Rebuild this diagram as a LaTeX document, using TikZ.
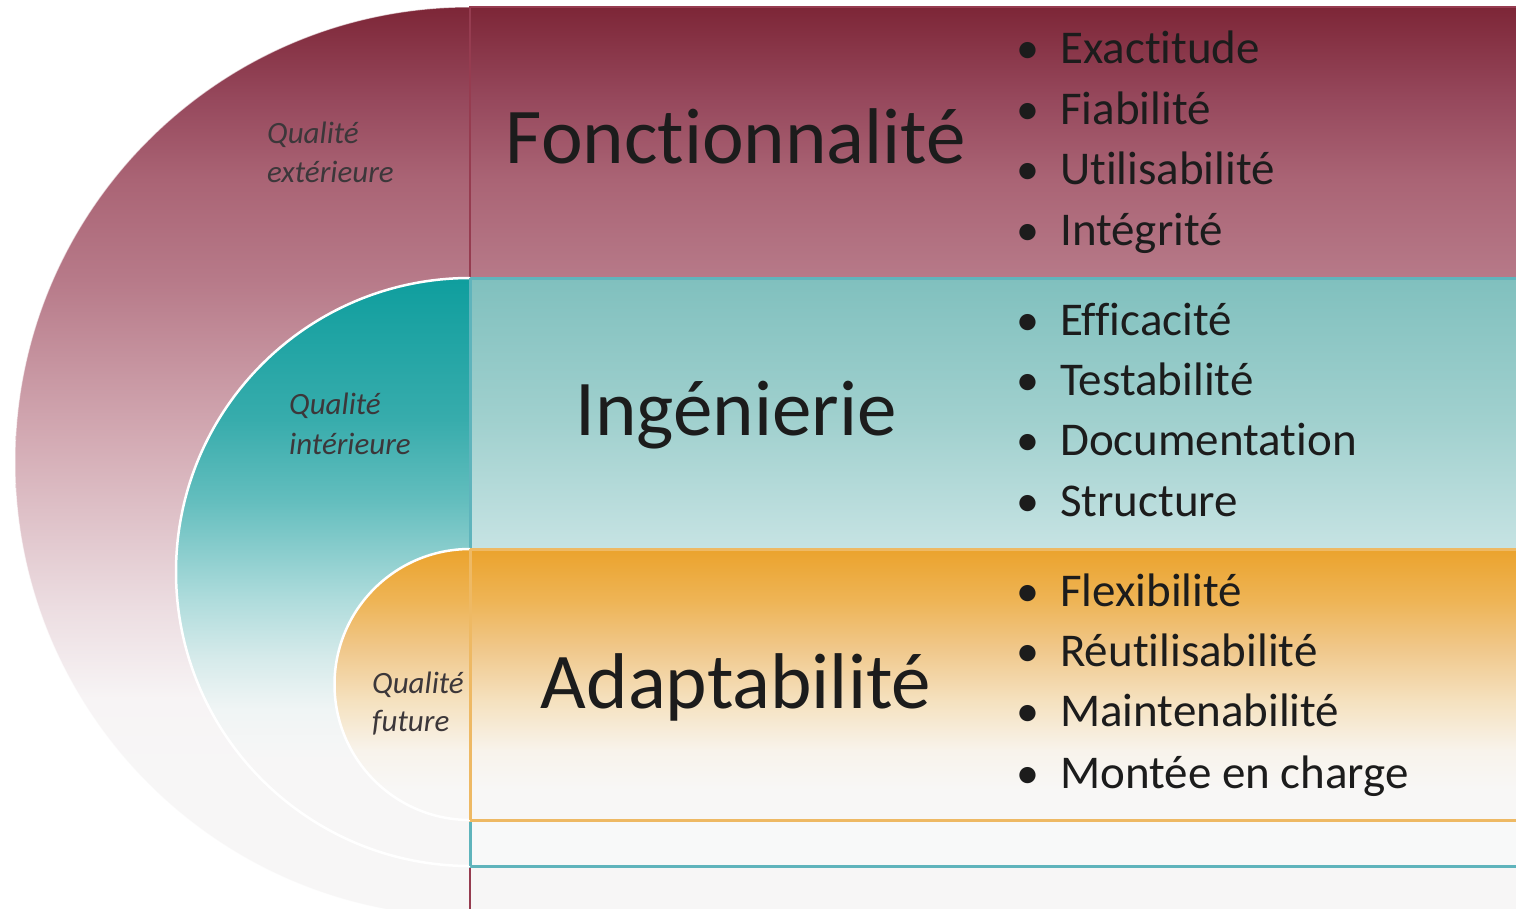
\documentclass[tikz,border=0pt]{standalone}
\usepackage{fontspec}
\setmainfont{Carlito}[Ligatures={NoCommon}]
\definecolor{m0}{RGB}{125,38,55}
\definecolor{ma}{RGB}{150,72,92}
\definecolor{mb}{RGB}{170,100,117}
\definecolor{m1}{RGB}{183,122,137}
\definecolor{m2}{RGB}{212,172,181}
\definecolor{m3}{RGB}{236,221,225}
\definecolor{mw}{RGB}{247,244,245}
\definecolor{nw}{RGB}{247,246,246}
\definecolor{t0}{RGB}{15,158,158}
\definecolor{t1}{RGB}{55,172,172}
\definecolor{t2}{RGB}{100,190,190}
\definecolor{t3}{RGB}{175,220,220}
\definecolor{t4}{RGB}{215,235,235}
\definecolor{t5}{RGB}{240,245,245}
\definecolor{r0}{RGB}{128,192,190}
\definecolor{r1}{RGB}{160,208,206}
\definecolor{r2}{RGB}{198,227,227}
\definecolor{r3}{RGB}{248,249,249}
\definecolor{o0}{RGB}{235,163,45}
\definecolor{o1}{RGB}{238,180,85}
\definecolor{o2}{RGB}{240,200,140}
\definecolor{o3}{RGB}{245,225,190}
\definecolor{o4}{RGB}{248,243,235}
\definecolor{o5}{RGB}{248,247,246}
\definecolor{mline}{RGB}{150,60,80}
\definecolor{tline}{RGB}{95,180,188}
\definecolor{oline}{RGB}{238,185,100}
\definecolor{txt}{RGB}{28,28,28}
\definecolor{lbltxt}{RGB}{60,55,58}
\pgfdeclareverticalshading{maroonsh}{100bp}{color(0bp)=(nw); color(33bp)=(nw); color(37bp)=(mw); color(42bp)=(m3); color(51bp)=(m2); color(60bp)=(m1); color(65.5bp)=(mb); color(70bp)=(ma); color(75bp)=(m0); color(100bp)=(m0)}
\pgfdeclareverticalshading{tealarcsh}{100bp}{color(0bp)=(nw); color(34bp)=(nw); color(38.3bp)=(t5); color(42.5bp)=(t4); color(47.6bp)=(t3); color(56bp)=(t2); color(63bp)=(t1); color(75bp)=(t0); color(100bp)=(t0)}
\pgfdeclareverticalshading{tealrectsh}{100bp}{color(0bp)=(r3); color(39bp)=(r3); color(52bp)=(r2); color(63bp)=(r1); color(75bp)=(r0); color(100bp)=(r0)}
\pgfdeclareverticalshading{orangesh}{100bp}{color(0bp)=(nw); color(30.5bp)=(o5); color(37.9bp)=(o4); color(47.1bp)=(o3); color(56.4bp)=(o2); color(65.6bp)=(o1); color(75bp)=(o0); color(100bp)=(o0)}
\tikzset{
  bigtxt/.style={font=\fontsize{79}{80}\selectfont, text=txt, inner sep=0pt, anchor=base},
  itemtxt/.style={font=\fontsize{47}{48}\selectfont, text=txt, inner sep=0pt, anchor=base west},
  bul/.style={font=\fontsize{46}{48}\selectfont, text=txt, inner sep=0pt, anchor=base},
  lbl/.style={font=\fontsize{31}{32}\selectfont\itshape, text=lbltxt, inner sep=0pt, anchor=base west},
  arcedge/.style={draw=white, line width=2.5pt}
}
\begin{document}
\begin{tikzpicture}[x=1pt,y=-1pt]
\useasboundingbox (0,0) rectangle (1516,908);
\clip (0,0) rectangle (1516,908);
% outer maroon
\path[shading=maroonsh] (470,7) arc[start angle=270,end angle=90,radius=455] -- cycle;
\draw[white, line width=1pt, opacity=0.6] (470,7) arc[start angle=270,end angle=90,radius=455];
\path[shading=maroonsh, draw=mline, line width=2pt] (470,7) rectangle (1540,917);
% teal
\path[shading=tealrectsh, draw=tline, line width=3pt] (470,278) rectangle (1540,866);
\path[shading=tealarcsh] (470,278) arc[start angle=270,end angle=90,radius=294] -- cycle;
\draw[arcedge] (470,278) arc[start angle=270,end angle=90,radius=294];
\draw[tline, line width=3pt] (470,278) -- (470,866);
% orange
\path[shading=orangesh, draw=oline, line width=3pt] (470,549) rectangle (1540,820);
\path[shading=orangesh] (470,549) arc[start angle=270,end angle=90,radius=135.5] -- cycle;
\draw[arcedge] (470,549) arc[start angle=270,end angle=90,radius=135.5];
\draw[oline, line width=3pt] (470,549) -- (470,820);
% titles
\node[bigtxt] (fon) at (736,163) {Fonctionnalité};
\node[bigtxt] (ing) at (736,435) {Ingénierie};
\node[bigtxt] (ada) at (736,708) {Adaptabilité};
% labels
\node[lbl] (q1a) at (267,143) {Qualité};
\node[lbl] (q1b) at (267,182) {extérieure};
\node[lbl] (q2a) at (289,414) {Qualité};
\node[lbl] (q2b) at (289,454) {intérieure};
\node[lbl] (q3a) at (372,693) {Qualité};
\node[lbl] (q3b) at (372,731) {future};
% bullets
\foreach \y/\t [count=\i] in {63/Exactitude,124/Fiabilité,184/Utilisabilité,245/Intégrité,
  335/Efficacité,395/Testabilité,455/Documentation,516/Structure,
  606/Flexibilité,666/Réutilisabilité,726/Maintenabilité,788/Montée en charge}{
  \node[bul] (b\i) at (1028,\y) {\textbullet};
  \node[itemtxt] (it\i) at (1060,\y) {\t};
}
\end{tikzpicture}
\end{document}
